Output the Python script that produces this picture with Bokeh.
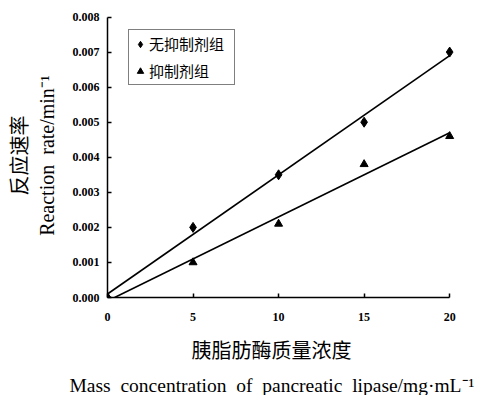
import numpy as np
from bokeh.plotting import figure
from bokeh.models import Range1d, FixedTicker, Legend, LegendItem, Title
from bokeh.embed import file_html
from bokeh.resources import INLINE

# Lipase concentration (mg/mL) and measured reaction rates (1/min)
conc = [0, 5, 10, 15, 20]
rate_no_inhibitor = [0.0, 0.0020, 0.0035, 0.0050, 0.0070]
rate_inhibitor = [0.0, 0.0010, 0.0021, 0.0038, 0.0046]
series_names = ["无抑制剂组", "抑制剂组"]

x_ticks = [0, 5, 10, 15, 20]
y_ticks = [0.000, 0.001, 0.002, 0.003, 0.004, 0.005, 0.006, 0.007, 0.008]
y_tick_labels = ["0.000", "0.001", "0.002", "0.003", "0.004",
                 "0.005", "0.006", "0.007", "0.008"]

y_title_cn = "反应速率"
y_title_en = "Reaction\u00a0 rate/min\u207b\u00b9"
x_title_cn = "胰脂肪酶质量浓度"
x_title_en = "Mass\u00a0 concentration\u00a0 of\u00a0 pancreatic\u00a0 lipase/mg·mL\u207b\u00b9"

W, H = 486, 395
SERIF = "Liberation Serif"
CJK = "Noto Sans CJK SC"

p = figure(width=W, height=H,
           x_range=Range1d(0, 20.4), y_range=Range1d(0, 0.0081),
           output_backend="svg", toolbar_location=None,
           min_border_left=107, min_border_right=30,
           min_border_top=13, min_border_bottom=93,
           outline_line_color=None, background_fill_color="white")
p.grid.visible = False

xa, ya = p.xaxis[0], p.yaxis[0]
xa.ticker = FixedTicker(ticks=x_ticks)
ya.ticker = FixedTicker(ticks=y_ticks)
ya.major_label_overrides = {t: s for t, s in zip(y_ticks, y_tick_labels)}
xa.bounds = (x_ticks[0], x_ticks[-1])
ya.bounds = (y_ticks[0], y_ticks[-1])
for ax in (xa, ya):
    ax.axis_line_color = "black"
    ax.axis_line_width = 1.5
    ax.major_tick_line_color = "black"
    ax.major_tick_line_width = 1.5
    ax.major_tick_in = 4
    ax.major_tick_out = 0
    ax.minor_tick_line_color = None
    ax.major_label_text_font = SERIF
    ax.major_label_text_font_style = "bold"
    ax.major_label_text_font_size = "12px"
    ax.major_label_text_color = "black"
xa.major_label_standoff = 15
ya.major_label_standoff = 8

# y title: English line next to the axis, Chinese line outside it
ya.axis_label = y_title_en
ya.axis_label_text_font = SERIF
ya.axis_label_text_font_size = "20px"
ya.axis_label_text_font_style = "normal"
ya.axis_label_text_color = "black"
ya.axis_label_standoff = 12
p.add_layout(Title(text=y_title_cn, align="center", text_font=CJK,
                   text_font_size="20px", text_font_style="normal",
                   text_color="black", standoff=0), "left")

# x title: Chinese line first, English line below it
p.add_layout(Title(text=x_title_cn, align="left", offset=84, text_font=CJK,
                   text_font_size="20px", text_font_style="normal",
                   text_color="black", standoff=18), "below")
p.add_layout(Title(text=x_title_en, align="left", offset=-38, text_font=SERIF,
                   text_font_size="19.5px", text_font_style="normal",
                   text_color="black", standoff=0), "below")

# Linear trend lines, clipped to the positive quadrant
for rates in (rate_no_inhibitor, rate_inhibitor):
    m, b = np.polyfit(conc, rates, 1)
    x0 = max(conc[0], -b / m)
    x1 = conc[-1]
    p.line([x0, x1], [m * x0 + b, m * x1 + b], line_color="black", line_width=1.6)

r1 = p.scatter(conc, rate_no_inhibitor, marker="diamond", size=10,
               fill_color="black", line_color="black")
r2 = p.scatter(conc, rate_inhibitor, marker="triangle", size=8,
               fill_color="black", line_color="black")

legend = Legend(items=[LegendItem(label=series_names[0], renderers=[r1]),
                       LegendItem(label=series_names[1], renderers=[r2])],
                location=(21, 212), orientation="vertical",
                border_line_color="black", border_line_width=1.2,
                background_fill_color="white", background_fill_alpha=1,
                label_text_font=CJK, label_text_font_size="15px",
                label_text_color="black",
                glyph_width=16, glyph_height=18, label_height=18,
                label_width=82, label_standoff=1, padding=3, spacing=6,
                margin=0)
p.add_layout(legend)

with open("out.html", "w") as f:
    f.write(file_html(p, INLINE))
